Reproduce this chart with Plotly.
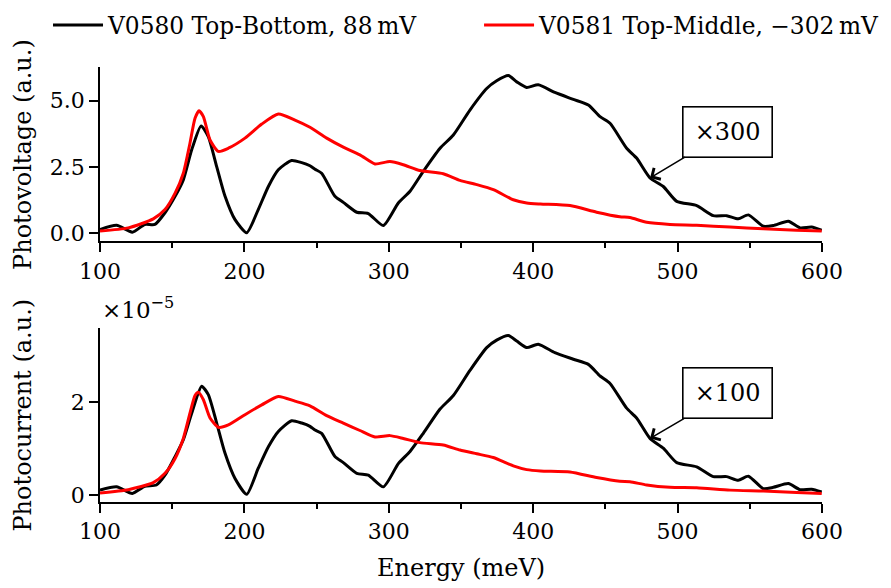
import plotly.graph_objects as go
from plotly.subplots import make_subplots

# ---------------- data ----------------
# Top panel: photovoltage (a.u.), black V0580 (x300), red V0581
pv_black_E = [100, 111.5, 122.4, 131, 138, 145, 152, 157.7, 163.5, 170, 175, 180.8, 186.6,
              193.5, 201.6, 209.6, 216.6, 223.5, 232.7, 239.7, 245.4, 248.9, 253.5, 262.7,
              268.5, 277.8, 285.8, 296.2, 306.6, 314.7, 323.9, 335.5, 344.7, 356.2, 367.8,
              374.7, 382.8, 388.6, 395.5, 403.5, 415, 427.8, 438.2, 446.3, 453.2, 464.7,
              471.6, 480.9, 490.1, 499.4, 513.2, 524.7, 534, 542, 549, 559.4, 566.3,
              576.7, 584.8, 592.8, 599.8]
pv_black = [0.15, 0.31, 0.05, 0.34, 0.34, 0.78, 1.40, 2.02, 3.15, 4.05, 3.65, 2.52, 1.40,
            0.52, 0.03, 0.90, 1.77, 2.40, 2.75, 2.67, 2.55, 2.42, 2.27, 1.40,
            1.17, 0.80, 0.75, 0.30, 1.15, 1.59, 2.34, 3.21, 3.71, 4.65, 5.46,
            5.75, 5.95, 5.71, 5.50, 5.60, 5.31, 5.05, 4.84, 4.40, 4.15, 3.21,
            2.84, 2.09, 1.77, 1.21, 1.05, 0.67, 0.67, 0.55, 0.70, 0.27, 0.30,
            0.46, 0.21, 0.24, 0.12]

pv_red_E = [100, 119.6, 136.9, 145, 152, 157.7, 162.3, 165.8, 168.6, 171.6, 176.2, 182,
            188.9, 200.4, 212, 223.5, 235, 245.4, 257, 268.5, 280, 290.4, 300.8, 310,
            321.6, 337.7, 349.3, 360.9, 372.4, 386.2, 395.5, 405, 425.5, 443.9, 460,
            467, 478.6, 494.7, 513.2, 536.3, 559.4, 582.4, 599.8]
pv_red = [0.09, 0.21, 0.55, 0.90, 1.52, 2.27, 3.40, 4.34, 4.62, 4.40, 3.52, 3.09,
          3.21, 3.59, 4.12, 4.50, 4.27, 4.00, 3.59, 3.25, 2.96, 2.62, 2.71, 2.59,
          2.37, 2.25, 2.00, 1.84, 1.65, 1.27, 1.15, 1.11, 1.05, 0.80, 0.63,
          0.60, 0.42, 0.34, 0.31, 0.24, 0.18, 0.12, 0.09]

# Bottom panel: photocurrent (units of 1e-5 a.u.), black V0580 (x100), red V0581
pc_black_E = [100, 111.5, 122.4, 131, 139, 145, 152, 157.7, 163.5, 170.4, 175, 180.8, 186.6,
              193.5, 201.6, 209.6, 216.6, 223.5, 232.7, 239.7, 245.4, 248.9, 253.5, 262.7,
              268.5, 277.8, 285.8, 296.2, 306.6, 314.7, 323.9, 335.5, 344.7, 356.2, 367.8,
              374.7, 382.8, 388.6, 395.5, 403.5, 415, 427.8, 438.2, 446.3, 453.2, 464.7,
              471.6, 480.9, 490.1, 499.4, 513.2, 524.7, 534, 542, 549, 559.4, 566.3,
              576.7, 584.8, 592.8, 599.8]
pc_black = [0.11, 0.18, 0.04, 0.19, 0.22, 0.43, 0.83, 1.19, 1.76, 2.34, 2.16, 1.55, 0.90,
            0.36, 0.02, 0.58, 1.04, 1.37, 1.60, 1.55, 1.48, 1.40, 1.33, 0.83,
            0.70, 0.47, 0.43, 0.18, 0.68, 0.94, 1.33, 1.85, 2.14, 2.68, 3.17,
            3.33, 3.43, 3.31, 3.17, 3.24, 3.06, 2.92, 2.81, 2.56, 2.40, 1.87,
            1.66, 1.22, 1.01, 0.70, 0.61, 0.40, 0.40, 0.32, 0.41, 0.14, 0.17,
            0.25, 0.12, 0.13, 0.07]

pc_red_E = [100, 119.6, 136.9, 145, 152, 157.7, 162.3, 165.8, 168.1, 171.6, 176.2, 182,
            188.9, 200.4, 212, 223.5, 235, 245.4, 257, 268.5, 280, 290.4, 300.8, 310,
            321.6, 337.7, 349.3, 360.9, 372.4, 386.2, 395.5, 405, 425.5, 443.9, 460,
            467, 478.6, 494.7, 513.2, 536.3, 559.4, 582.4, 599.8]
pc_red = [0.05, 0.12, 0.27, 0.47, 0.79, 1.22, 1.76, 2.14, 2.21, 2.05, 1.66, 1.46,
          1.51, 1.73, 1.94, 2.12, 2.02, 1.92, 1.71, 1.55, 1.39, 1.25, 1.28, 1.22,
          1.13, 1.08, 0.97, 0.89, 0.81, 0.63, 0.55, 0.52, 0.50, 0.38, 0.30,
          0.29, 0.22, 0.17, 0.16, 0.11, 0.09, 0.06, 0.04]

series_names = ["V0580 Top-Bottom, 88\u2009mV", "V0581 Top-Middle, \u2212302\u2009mV"]
x_ticks = [100, 200, 300, 400, 500, 600]
pv_ticks = [0, 2.5, 5.0]
pc_ticks = [0, 2]

# ---------------- figure ----------------
FONT = "DejaVu Serif"
FS_TICK = 22
FS = 24
FS_LEG = 23.3
BLACK = "#000000"
RED = "#ff0000"
LW = 3

fig = make_subplots(rows=2, cols=1, vertical_spacing=0.198)

fig.add_trace(go.Scatter(x=pv_black_E, y=pv_black, mode="lines", name=series_names[0],
                         line=dict(color=BLACK, width=LW, shape="spline", smoothing=0.6),
                         legendgroup="a", legend="legend"), row=1, col=1)
fig.add_trace(go.Scatter(x=pv_red_E, y=pv_red, mode="lines", name=series_names[1],
                         line=dict(color=RED, width=LW, shape="spline", smoothing=0.6),
                         legendgroup="b", legend="legend2"), row=1, col=1)
fig.add_trace(go.Scatter(x=pc_black_E, y=pc_black, mode="lines", name=series_names[0],
                         line=dict(color=BLACK, width=LW, shape="spline", smoothing=0.6),
                         legendgroup="a", showlegend=False), row=2, col=1)
fig.add_trace(go.Scatter(x=pc_red_E, y=pc_red, mode="lines", name=series_names[1],
                         line=dict(color=RED, width=LW, shape="spline", smoothing=0.6),
                         legendgroup="b", showlegend=False), row=2, col=1)

axis_common = dict(showline=True, linecolor=BLACK, linewidth=1.6, ticks="outside",
                   ticklen=9, tickwidth=1.6, tickcolor=BLACK, showgrid=False,
                   zeroline=False, mirror=False,
                   tickfont=dict(family=FONT, size=FS_TICK, color=BLACK))

for r in (1, 2):
    fig.update_xaxes(range=[100, 600], tickvals=x_ticks,
                     minor=dict(dtick=50, tick0=100, ticks="outside", ticklen=5,
                                tickwidth=1.6, tickcolor=BLACK, showgrid=False),
                     row=r, col=1, **axis_common)

fig.update_yaxes(range=[-0.3, 6.27], tickvals=pv_ticks, tickformat=".1f",
                 row=1, col=1, **axis_common)
fig.update_yaxes(range=[-0.145, 3.6], tickvals=pc_ticks, tickformat="d",
                 row=2, col=1, **axis_common)

legend_common = dict(orientation="h", xanchor="left", yanchor="middle", y=1.096,
                     font=dict(family=FONT, size=FS_LEG, color=BLACK),
                     bgcolor="rgba(0,0,0,0)", itemwidth=50, borderwidth=0)

fig.update_layout(
    width=891, height=588,
    margin=dict(l=92, r=77, t=59, b=94, autoexpand=False),
    paper_bgcolor="white", plot_bgcolor="white",
    font=dict(family=FONT, size=FS, color=BLACK),
    legend=dict(x=-0.072, **legend_common),
    legend2=dict(x=0.525, **legend_common),
    showlegend=True,
)

# axis titles as annotations (aligned like matplotlib align_ylabels)
top_dom = fig.layout.yaxis.domain
bot_dom = fig.layout.yaxis2.domain
fig.add_annotation(text="Photovoltage (a.u.)", xref="paper", yref="paper",
                   x=-0.107, y=(top_dom[0] + top_dom[1]) / 2, textangle=-90,
                   showarrow=False, xanchor="center", yanchor="middle",
                   font=dict(family=FONT, size=FS, color=BLACK))
fig.add_annotation(text="Photocurrent (a.u.)", xref="paper", yref="paper",
                   x=-0.107, y=(bot_dom[0] + bot_dom[1]) / 2, textangle=-90,
                   showarrow=False, xanchor="center", yanchor="middle",
                   font=dict(family=FONT, size=FS, color=BLACK))
fig.add_annotation(text="Energy (meV)", xref="paper", yref="paper",
                   x=0.5, y=-0.152, showarrow=False, xanchor="center", yanchor="middle",
                   font=dict(family=FONT, size=FS, color=BLACK))
fig.add_annotation(text="\u00d710<sup>\u22125</sup>", xref="paper", yref="paper",
                   x=0.0, y=bot_dom[1] + 0.005, showarrow=False, xanchor="left",
                   yanchor="bottom", font=dict(family=FONT, size=23, color=BLACK))

# scale-factor callouts
fig.add_annotation(text="\u00d7300", x=480.9, y=2.09, xref="x", yref="y",
                   ax=77, ay=-46, showarrow=True, arrowhead=4, arrowsize=1.6,
                   arrowwidth=1.6, arrowcolor=BLACK, bordercolor=BLACK, borderwidth=1.6,
                   bgcolor="white", borderpad=4, width=80, height=41,
                   font=dict(family=FONT, size=FS, color=BLACK))
fig.add_annotation(text="\u00d7100", x=480.9, y=1.22, xref="x2", yref="y2",
                   ax=77, ay=-45, showarrow=True, arrowhead=4, arrowsize=1.6,
                   arrowwidth=1.6, arrowcolor=BLACK, bordercolor=BLACK, borderwidth=1.6,
                   bgcolor="white", borderpad=4, width=80, height=41,
                   font=dict(family=FONT, size=FS, color=BLACK))

fig.write_html("out.html")
